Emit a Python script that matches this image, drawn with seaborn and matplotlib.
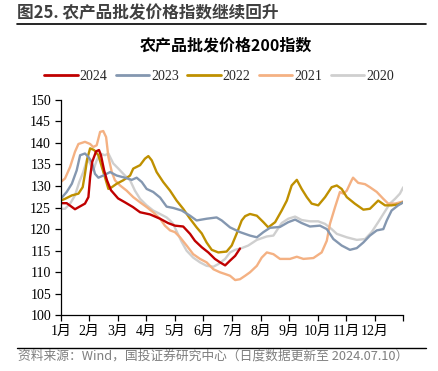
import numpy as np
import pandas as pd
import matplotlib
matplotlib.use("Agg")
import matplotlib.pyplot as plt
from matplotlib.lines import Line2D
import seaborn as sns

# month position: 0 = 1月初, 12 = 年末
x_2024 = [0.00, 0.21, 0.50, 0.85, 0.97, 1.03, 1.10, 1.24, 1.34, 1.41, 1.52, 1.62, 1.76, 2.01, 2.25,
          2.53, 2.78, 3.13, 3.48, 3.76, 4.00, 4.29, 4.53, 4.70, 4.94, 5.17, 5.40, 5.58, 5.76, 5.93,
          6.11, 6.28]
v_2024 = [126.0, 126.0, 124.6, 125.9, 127.4, 132.0, 135.5, 138.0, 138.3, 137.1, 133.6, 131.3, 129.0,
          127.1, 126.2, 125.1, 123.9, 123.4, 122.4, 121.4, 120.8, 120.6, 118.9, 117.3, 115.8, 114.6,
          113.1, 112.3, 111.6, 112.7, 113.8, 115.5]

x_2023 = [0.00, 0.21, 0.39, 0.56, 0.68, 0.85, 0.97, 1.09, 1.20, 1.32, 1.49, 1.73, 1.96, 2.25, 2.49,
          2.66, 2.84, 3.01, 3.24, 3.48, 3.71, 3.94, 4.24, 4.53, 4.76, 5.11, 5.46, 5.64, 5.93, 6.28,
          6.63, 6.87, 7.10, 7.33, 7.68, 7.97, 8.21, 8.44, 8.73, 9.08, 9.32, 9.55, 9.84, 10.13, 10.37,
          10.60, 10.83, 11.07, 11.30, 11.42, 11.59, 11.82, 12.00]
v_2023 = [127.0, 128.6, 130.5, 133.6, 137.1, 137.5, 136.7, 135.5, 132.8, 131.9, 132.4, 133.2, 132.4,
          131.9, 131.4, 131.9, 130.9, 129.3, 128.6, 127.3, 125.2, 124.9, 124.3, 123.1, 122.0, 122.4,
          122.7, 122.0, 120.4, 119.3, 118.5, 118.1, 119.3, 120.3, 120.5, 121.6, 122.2, 121.4, 120.6,
          120.8, 120.0, 117.7, 116.2, 115.2, 115.6, 116.9, 118.5, 119.7, 120.0, 122.0, 124.3, 125.5,
          126.2]

x_2022 = [0.00, 0.15, 0.39, 0.62, 0.77, 0.85, 0.93, 1.03, 1.17, 1.32, 1.44, 1.55, 1.67, 1.79, 1.96,
          2.19, 2.43, 2.54, 2.78, 2.95, 3.07, 3.19, 3.36, 3.59, 3.83, 4.06, 4.29, 4.53, 4.76, 4.94,
          5.11, 5.29, 5.52, 5.81, 5.99, 6.16, 6.34, 6.46, 6.63, 6.87, 7.10, 7.27, 7.51, 7.74, 7.92,
          8.09, 8.27, 8.44, 8.62, 8.79, 9.02, 9.26, 9.49, 9.67, 9.84, 10.02, 10.30, 10.60, 10.83,
          11.12, 11.36, 11.59, 11.82, 12.00]
v_2022 = [126.6, 127.0, 127.8, 128.2, 129.7, 132.8, 136.3, 138.7, 138.3, 137.1, 134.4, 132.0, 129.3,
          129.7, 130.5, 131.3, 132.4, 134.0, 134.8, 136.3, 136.9, 135.9, 133.2, 130.9, 128.9, 126.6,
          124.7, 122.4, 120.4, 119.0, 116.9, 115.2, 114.6, 114.8, 116.2, 118.9, 122.0, 123.0, 123.5,
          123.1, 121.6, 120.4, 121.6, 124.3, 126.6, 130.1, 131.4, 129.3, 127.4, 125.9, 125.5, 127.4,
          129.7, 130.1, 129.3, 127.4, 125.9, 124.5, 124.7, 126.6, 125.5, 125.5, 125.7, 126.2]

x_2021 = [0.00, 0.15, 0.33, 0.50, 0.62, 0.85, 1.03, 1.14, 1.26, 1.38, 1.49, 1.59, 1.67, 1.79, 1.90,
          2.08, 2.31, 2.54, 2.78, 3.01, 3.24, 3.48, 3.65, 3.83, 4.00, 4.18, 4.41, 4.64, 4.88, 5.11,
          5.35, 5.58, 5.76, 5.93, 6.11, 6.28, 6.46, 6.63, 6.87, 7.04, 7.22, 7.45, 7.68, 8.03, 8.27,
          8.50, 8.85, 9.14, 9.32, 9.43, 9.61, 9.78, 9.90, 10.02, 10.19, 10.24, 10.42, 10.66, 10.83,
          11.07, 11.30, 11.47, 11.71, 12.00]
v_2021 = [130.9, 131.7, 134.4, 137.9, 139.7, 140.2, 139.7, 139.0, 139.4, 142.5, 142.7, 141.3, 136.7,
          133.2, 131.3, 130.1, 128.9, 127.4, 126.2, 125.1, 123.9, 122.4, 120.8, 119.7, 119.3, 118.1,
          116.2, 114.2, 113.1, 112.3, 110.7, 110.0, 109.6, 109.2, 108.2, 108.4, 109.2, 110.0, 111.5,
          113.4, 114.6, 114.2, 113.1, 113.1, 113.6, 113.1, 113.3, 114.6, 117.3, 121.2, 125.1, 128.6,
          128.2, 128.9, 131.3, 131.9, 130.7, 130.4, 129.7, 128.6, 127.0, 125.9, 125.9, 126.4]

x_2020 = [0.00, 0.15, 0.33, 0.50, 0.65, 0.79, 0.93, 1.03, 1.14, 1.26, 1.38, 1.55, 1.67, 1.84, 2.02,
          2.25, 2.43, 2.60, 2.78, 3.01, 3.24, 3.48, 3.71, 3.83, 3.94, 4.06, 4.24, 4.41, 4.64, 4.88,
          5.11, 5.35, 5.52, 5.76, 5.93, 6.11, 6.34, 6.57, 6.87, 7.22, 7.45, 7.57, 7.74, 7.97, 8.21,
          8.44, 8.73, 9.02, 9.26, 9.49, 9.67, 10.02, 10.37, 10.66, 10.89, 11.12, 11.30, 11.53, 11.71,
          11.88, 12.00]
v_2020 = [124.7, 124.7, 125.9, 127.8, 130.9, 133.2, 136.3, 135.2, 133.6, 135.9, 137.5, 137.1, 137.5,
          135.2, 134.0, 132.4, 131.3, 128.9, 127.0, 125.5, 124.3, 123.5, 122.7, 122.0, 121.2, 119.5,
          117.0, 115.0, 113.4, 112.3, 111.5, 111.3, 111.9, 113.1, 114.6, 115.2, 115.6, 116.2, 117.5,
          118.3, 118.5, 119.7, 121.4, 122.4, 122.9, 122.1, 121.8, 121.8, 121.2, 120.0, 118.9, 118.1,
          117.5, 117.7, 119.3, 121.6, 123.5, 125.9, 127.0, 128.2, 129.7]

years = ["2024", "2023", "2022", "2021", "2020"]
colors = ["#C00000", "#8497B0", "#BF9000", "#F4B183", "#CFCFCF"]
series = {"2024": (x_2024, v_2024), "2023": (x_2023, v_2023), "2022": (x_2022, v_2022),
          "2021": (x_2021, v_2021), "2020": (x_2020, v_2020)}
month_labels = ["1月", "2月", "3月", "4月", "5月", "6月", "7月", "8月", "9月", "10月", "11月", "12月", ""]
y_ticks = [100, 105, 110, 115, 120, 125, 130, 135, 140, 145, 150]

df = pd.concat([pd.DataFrame({"month": series[y][0], "value": series[y][1], "year": y}) for y in years],
               ignore_index=True)

sns.set_style("ticks")
plt.rcParams["font.family"] = ["Liberation Serif", "Noto Sans CJK SC"]
cjk = ["Noto Sans CJK SC", "DejaVu Sans"]

fig = plt.figure(figsize=(4.38, 3.71), dpi=100)
ax = fig.add_axes([0.1386, 0.1496, 0.7822, 0.5822])

# draw older years first so 2024 sits on top
for yr, col in list(zip(years, colors))[::-1]:
    sns.lineplot(data=df[df["year"] == yr], x="month", y="value", color=col, sort=False,
                 estimator=None, linewidth=1.7, ax=ax, label=yr, legend=False)

ax.set_xlim(0, 12)
ax.set_ylim(100, 150)
ax.set_xticks(range(13))
ax.set_xticklabels(month_labels, fontsize=10)
ax.set_yticks(y_ticks)
ax.set_yticklabels([str(t) for t in y_ticks], fontsize=10)
ax.set_xlabel("")
ax.set_ylabel("")
sns.despine(ax=ax)
for s in ["left", "bottom"]:
    ax.spines[s].set_color("black")
    ax.spines[s].set_linewidth(0.9)
ax.tick_params(direction="out", length=4, width=0.9, color="black", labelcolor="black", pad=3)

handles = [Line2D([0], [0], color=c, lw=2) for c in colors]
fig.legend(handles, years, loc="center", bbox_to_anchor=(0.5, 0.795), ncol=5, frameon=False,
           fontsize=10, handlelength=2.4, handletextpad=0.15, columnspacing=0.6)

fig.text(17 / 438, 1 - 13 / 371, "图25. 农产品批发价格指数继续回升", fontsize=12, fontweight="bold",
         color="#404040", va="center", ha="left", family=cjk)
fig.add_artist(Line2D([16.7 / 438, 426 / 438], [1 - 24 / 371] * 2, color="black", lw=1.2))
fig.text(0.516, 1 - 45 / 371, "农产品批发价格200指数", fontsize=11.5, fontweight="bold",
         color="black", va="center", ha="center", family=cjk)

fig.add_artist(Line2D([16.7 / 438, 426 / 438], [1 - 347.7 / 371] * 2, color="black", lw=1.0))
fig.text(18 / 438, 1 - 356 / 371, "资料来源：Wind，国投证券研究中心（日度数据更新至 2024.07.10）",
         fontsize=9.2, style="italic", color="#7F7F7F", va="center", ha="left", family=cjk)

fig.savefig("out.png", dpi=100)
